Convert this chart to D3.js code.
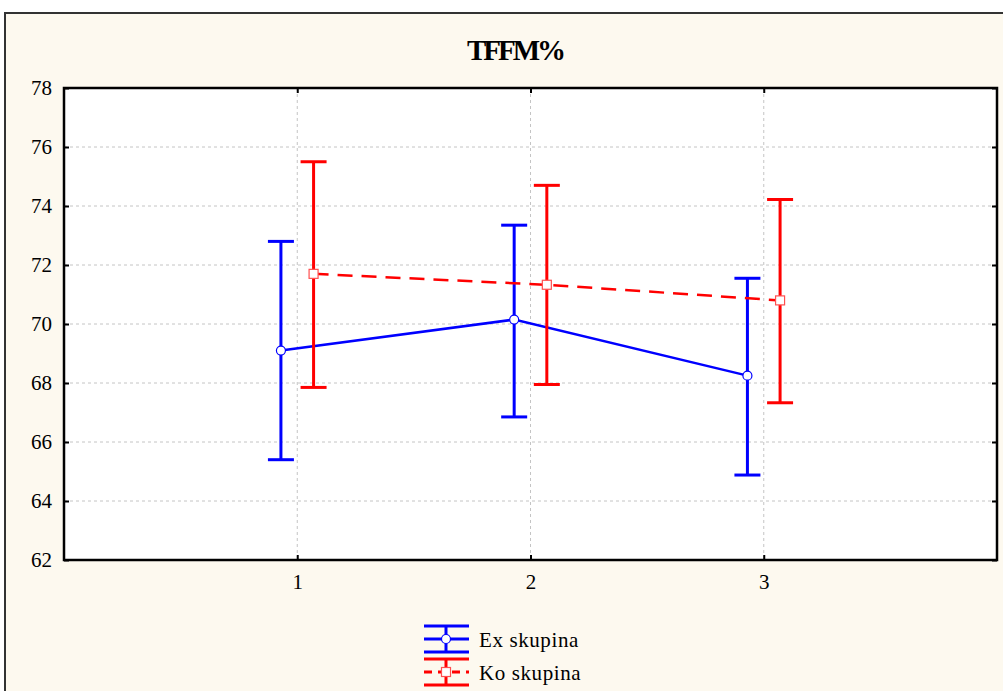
<!DOCTYPE html>
<html>
<head>
<script src="https://d3js.org/d3.v7.min.js"></script>
<style>
body {margin:0; background:#fff;}
svg text {font-family:"Liberation Serif","Times New Roman",serif;}
</style>
</head>
<body>
<svg id="chart" width="1003" height="691"></svg>
<script>
// data
var categories = [1, 2, 3];
var seriesNames = ["Ex skupina", "Ko skupina"];
var exMean = [69.1, 70.15, 68.25];
var exUpper = [72.8, 73.35, 71.55];
var exLower = [65.4, 66.85, 64.88];
var koMean = [71.7, 71.33, 70.8];
var koUpper = [75.5, 74.7, 74.22];
var koLower = [67.85, 67.95, 67.33];
var yTicks = [62, 64, 66, 68, 70, 72, 74, 76, 78];

var svg = d3.select("#chart");
var pLeft = 64, pRight = 997, pTop = 88, pBottom = 560;

// outer panel
svg.append("rect").attr("x", 5).attr("y", 13).attr("width", 1010).attr("height", 700)
    .attr("fill", "#fdf9ef").attr("stroke", "#333").attr("stroke-width", 2);

var x = d3.scaleLinear().domain([0, 4]).range([pLeft, pRight]);
var y = d3.scaleLinear().domain([62, 78]).range([pBottom, pTop]);

svg.append("rect").attr("x", pLeft).attr("y", pTop).attr("width", pRight - pLeft).attr("height", pBottom - pTop)
    .attr("fill", "#fff");

// grid
svg.append("g").selectAll("line").data(yTicks.slice(1, -1)).enter().append("line")
    .attr("x1", pLeft).attr("x2", pRight).attr("y1", d => y(d)).attr("y2", d => y(d))
    .attr("stroke", "#c4c4c4").attr("stroke-dasharray", "3,3");
svg.append("g").selectAll("line").data(categories).enter().append("line")
    .attr("x1", d => x(d)).attr("x2", d => x(d)).attr("y1", pTop).attr("y2", pBottom)
    .attr("stroke", "#c4c4c4").attr("stroke-dasharray", "3,3");

// axes
function styleAxis(g) {
    g.attr("font-family", "Liberation Serif").attr("font-size", 21);
    g.select(".domain").remove();
    g.selectAll(".tick line").attr("stroke", "#000").attr("stroke-width", 2);
    g.selectAll(".tick text").attr("fill", "#000");
}
svg.append("g").attr("transform", "translate(" + pLeft + ",0)")
    .call(d3.axisLeft(y).tickValues(yTicks).tickSize(-5).tickPadding(12).tickFormat(d3.format("d"))).call(styleAxis);
svg.append("g").attr("transform", "translate(" + pRight + ",0)")
    .call(d3.axisRight(y).tickValues(yTicks).tickSize(-5).tickFormat("")).call(styleAxis);
svg.append("g").attr("transform", "translate(0," + pBottom + ")")
    .call(d3.axisBottom(x).tickValues(categories).tickSize(-5).tickPadding(14).tickFormat(d3.format("d"))).call(styleAxis);
svg.append("g").attr("transform", "translate(0," + pTop + ")")
    .call(d3.axisTop(x).tickValues(categories).tickSize(-5).tickFormat("")).call(styleAxis);

svg.append("rect").attr("x", pLeft).attr("y", pTop).attr("width", pRight - pLeft).attr("height", pBottom - pTop)
    .attr("fill", "none").attr("stroke", "#000").attr("stroke-width", 2.5);

// title
svg.append("text").attr("x", 515).attr("y", 60).attr("text-anchor", "middle")
    .attr("font-size", 29).attr("font-weight", "bold").attr("letter-spacing", -3)
    .text("TFFM%");

var series = [
    {name: seriesNames[0], mean: exMean, up: exUpper, lo: exLower, color: "#0000ff", off: -0.07, dash: null, marker: "circle"},
    {name: seriesNames[1], mean: koMean, up: koUpper, lo: koLower, color: "#ff0000", off: 0.07, dash: "15,9", marker: "square"}
];
var cap = 13;

series.forEach(function(s) {
    var g = svg.append("g");
    var line = d3.line().x((d, i) => x(categories[i] + s.off)).y(d => y(d));
    g.append("path").datum(s.mean).attr("d", line).attr("fill", "none")
        .attr("stroke", s.color).attr("stroke-width", 2.5)
        .attr("stroke-dasharray", s.dash);
    categories.forEach(function(c, i) {
        var cx = x(c + s.off);
        g.append("line").attr("x1", cx).attr("x2", cx).attr("y1", y(s.up[i])).attr("y2", y(s.lo[i]))
            .attr("stroke", s.color).attr("stroke-width", 3);
        [s.up[i], s.lo[i]].forEach(function(v) {
            g.append("line").attr("x1", cx - cap).attr("x2", cx + cap).attr("y1", y(v)).attr("y2", y(v))
                .attr("stroke", s.color).attr("stroke-width", 3);
        });
    });
    categories.forEach(function(c, i) {
        var cx = x(c + s.off), cy = y(s.mean[i]);
        if (s.marker === "circle") {
            g.append("circle").attr("cx", cx).attr("cy", cy).attr("r", 4.5)
                .attr("fill", "#fff").attr("stroke", s.color).attr("stroke-width", 1.2);
        } else {
            g.append("rect").attr("x", cx - 4.5).attr("y", cy - 4.5).attr("width", 9).attr("height", 9)
                .attr("fill", "#fff").attr("stroke", "#ff5050").attr("stroke-width", 1.2);
        }
    });
});

// legend
var leg = svg.append("g");
series.forEach(function(s, k) {
    var y0 = 639 + k * 33;
    var lx = 424, rx = 469, mx = 446;
    leg.append("line").attr("x1", lx).attr("x2", rx).attr("y1", y0 - 13).attr("y2", y0 - 13)
        .attr("stroke", s.color).attr("stroke-width", 3);
    leg.append("line").attr("x1", lx).attr("x2", rx).attr("y1", y0 + 13).attr("y2", y0 + 13)
        .attr("stroke", s.color).attr("stroke-width", 3);
    leg.append("line").attr("x1", mx).attr("x2", mx).attr("y1", y0 - 13).attr("y2", y0 + 13)
        .attr("stroke", s.color).attr("stroke-width", 3);
    leg.append("line").attr("x1", lx).attr("x2", rx).attr("y1", y0).attr("y2", y0)
        .attr("stroke", s.color).attr("stroke-width", 3).attr("stroke-dasharray", s.dash ? "8,6" : null);
    if (s.marker === "circle") {
        leg.append("circle").attr("cx", mx).attr("cy", y0).attr("r", 4.5)
            .attr("fill", "#fff").attr("stroke", s.color).attr("stroke-width", 1.2);
    } else {
        leg.append("rect").attr("x", mx - 4.5).attr("y", y0 - 4.5).attr("width", 9).attr("height", 9)
            .attr("fill", "#fff").attr("stroke", "#ff5050").attr("stroke-width", 1.2);
    }
    leg.append("text").attr("x", 479).attr("y", y0 + 8).attr("font-size", 21).attr("letter-spacing", 0.6)
        .text(s.name);
});
</script>
</body>
</html>
